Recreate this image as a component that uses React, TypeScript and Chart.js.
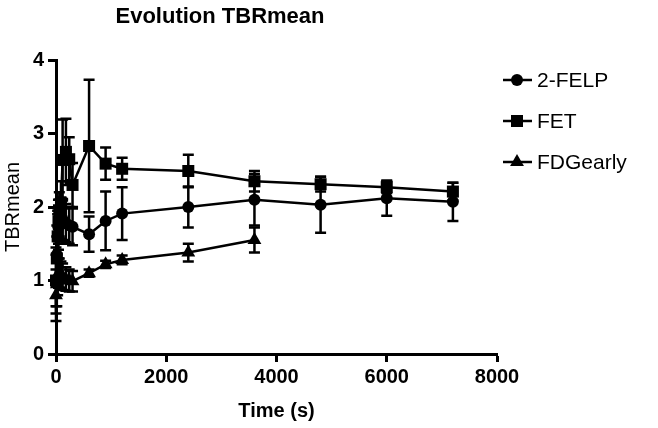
import React, { useEffect, useRef } from 'react';
import { Chart, registerables } from 'chart.js';

Chart.register(...registerables);

const TITLE = 'Evolution TBRmean';
const X_TITLE = 'Time (s)';
const Y_TITLE = 'TBRmean';
const SERIES_NAMES = ['2-FELP', 'FET', 'FDGearly'];
const SERIES_MARKERS = ['circle', 'rect', 'triangle'];

const timeFELP = [0, 15, 30, 45, 60, 90, 120, 180, 240, 300, 600, 900, 1200, 2400, 3600, 4800, 6000, 7200];
const meanFELP = [1.0, 1.35, 1.6, 1.72, 1.8, 1.85, 1.83, 1.78, 1.75, 1.73, 1.63, 1.81, 1.91, 2.0, 2.1, 2.03, 2.12, 2.07];
const sdFELP = [0.45, 0.4, 0.35, 0.3, 0.3, 0.28, 0.28, 0.26, 0.25, 0.25, 0.24, 0.4, 0.36, 0.28, 0.35, 0.38, 0.24, 0.26];

const timeFET = [0, 15, 30, 45, 60, 90, 120, 180, 240, 300, 600, 900, 1200, 2400, 3600, 4800, 6000, 7200];
const meanFET = [1.0, 1.3, 1.6, 1.8, 1.9, 2.05, 2.64, 2.75, 2.65, 2.3, 2.83, 2.59, 2.52, 2.49, 2.35, 2.31, 2.27, 2.21];
const sdFET = [0.35, 0.3, 0.3, 0.3, 0.3, 0.3, 0.55, 0.45, 0.3, 0.3, 0.9, 0.22, 0.15, 0.22, 0.14, 0.1, 0.08, 0.12];

const timeFDG = [0, 15, 30, 45, 60, 90, 120, 180, 240, 300, 600, 900, 1200, 2400, 3600];
const meanFDG = [0.8, 0.95, 1.05, 1.1, 1.1, 1.08, 1.05, 1.02, 1.0, 0.99, 1.1, 1.22, 1.28, 1.38, 1.55];
const sdFDG = [0.35, 0.3, 0.25, 0.2, 0.2, 0.18, 0.18, 0.16, 0.15, 0.14, 0.05, 0.05, 0.06, 0.12, 0.17];

const X_MIN = 0;
const X_MAX = 8000;
const X_STEP = 2000;
const Y_MIN = 0;
const Y_MAX = 4;
const Y_STEP = 1;

const FONT = 'Arial, "Liberation Sans", Helvetica, sans-serif';

function toPoints(t: number[], v: number[]) {
  return t.map((x, i) => ({ x, y: v[i] }));
}

function drawMarker(ctx: CanvasRenderingContext2D, style: string, x: number, y: number) {
  ctx.beginPath();
  if (style === 'circle') {
    ctx.arc(x, y, 6, 0, Math.PI * 2);
  } else if (style === 'rect') {
    ctx.rect(x - 6, y - 6, 12, 12);
  } else {
    const r = 8;
    for (let k = 0; k < 3; k++) {
      const a = (k * 2 * Math.PI) / 3;
      const px = x + Math.sin(a) * r;
      const py = y - Math.cos(a) * r;
      if (k === 0) ctx.moveTo(px, py);
      else ctx.lineTo(px, py);
    }
    ctx.closePath();
  }
  ctx.fill();
}

const errorBarPlugin = {
  id: 'errorBars',
  beforeDatasetsDraw(chart: any) {
    const { ctx, scales } = chart;
    const xs = scales.x;
    const ys = scales.y;
    ctx.save();
    ctx.strokeStyle = '#000';
    ctx.lineWidth = 2.5;
    chart.data.datasets.forEach((ds: any) => {
      ds.data.forEach((pt: any, j: number) => {
        const e = ds.errors[j];
        const px = xs.getPixelForValue(pt.x);
        const top = ys.getPixelForValue(pt.y + e);
        const bot = ys.getPixelForValue(pt.y - e);
        ctx.beginPath();
        ctx.moveTo(px, top);
        ctx.lineTo(px, bot);
        ctx.moveTo(px - 5.5, top);
        ctx.lineTo(px + 5.5, top);
        ctx.moveTo(px - 5.5, bot);
        ctx.lineTo(px + 5.5, bot);
        ctx.stroke();
      });
    });
    ctx.restore();
  },
};

const decorPlugin = {
  id: 'decor',
  afterDraw(chart: any) {
    const { ctx } = chart;
    ctx.save();
    ctx.fillStyle = '#000';
    ctx.font = `bold 22px ${FONT}`;
    ctx.textAlign = 'center';
    ctx.textBaseline = 'alphabetic';
    ctx.fillText(TITLE, 220, 23);

    // legend
    const rowY = [80, 121, 162];
    ctx.font = `21px ${FONT}`;
    ctx.textAlign = 'left';
    ctx.textBaseline = 'middle';
    chart.data.datasets.forEach((ds: any, i: number) => {
      const y = rowY[i];
      ctx.strokeStyle = '#000';
      ctx.lineWidth = 2.5;
      ctx.beginPath();
      ctx.moveTo(503, y);
      ctx.lineTo(532, y);
      ctx.stroke();
      drawMarker(ctx, ds.pointStyle, 517, y);
      ctx.fillText(ds.label, 537, y + 1);
    });
    ctx.restore();
  },
};

export default function App() {
  const ref = useRef<HTMLCanvasElement | null>(null);

  useEffect(() => {
    if (!ref.current) return;
    const series = [
      { t: timeFELP, v: meanFELP, e: sdFELP },
      { t: timeFET, v: meanFET, e: sdFET },
      { t: timeFDG, v: meanFDG, e: sdFDG },
    ];
    const datasets = series.map((s, i) => ({
      label: SERIES_NAMES[i],
      data: toPoints(s.t, s.v),
      errors: s.e,
      borderColor: '#000',
      backgroundColor: '#000',
      borderWidth: 2.5,
      pointStyle: SERIES_MARKERS[i],
      pointRadius: i === 0 ? 6 : i === 1 ? 8.5 : 8,
      pointBorderWidth: 0,
      pointBackgroundColor: '#000',
      tension: 0,
      clip: false as any,
    }));

    const axisCommon = {
      border: { display: true, color: '#000', width: 3 },
      grid: {
        drawOnChartArea: false,
        drawTicks: true,
        tickLength: 8,
        tickWidth: 3,
        tickColor: '#000',
      },
    };

    const chart = new Chart(ref.current, {
      type: 'line',
      data: { datasets } as any,
      options: {
        animation: false,
        responsive: false,
        devicePixelRatio: 1,
        layout: { padding: { top: 60, right: 161, bottom: 0, left: 0 } },
        plugins: {
          legend: { display: false },
          title: { display: false },
          tooltip: { enabled: false },
        },
        scales: {
          x: {
            type: 'linear',
            min: X_MIN,
            max: X_MAX,
            ...axisCommon,
            ticks: {
              stepSize: X_STEP,
              color: '#000',
              font: { family: FONT, size: 20, weight: 'bold' },
              padding: 3,
              maxRotation: 0,
              callback: (v: any) => String(v),
            },
            title: {
              display: true,
              text: X_TITLE,
              color: '#000',
              font: { family: FONT, size: 20, weight: 'bold' },
              padding: { top: 0, bottom: 5 },
            },
            afterFit: (s: any) => {
              s.height = 74;
            },
          },
          y: {
            type: 'linear',
            min: Y_MIN,
            max: Y_MAX,
            ...axisCommon,
            ticks: {
              stepSize: Y_STEP,
              color: '#000',
              font: { family: FONT, size: 20, weight: 'bold' },
              padding: 4,
              callback: (v: any) => String(v),
            },
            title: {
              display: true,
              text: Y_TITLE,
              color: '#000',
              font: { family: FONT, size: 20 },
              padding: { top: 1, bottom: 0 },
            },
            afterFit: (s: any) => {
              s.width = 56;
            },
          },
        } as any,
      },
      plugins: [errorBarPlugin, decorPlugin],
    });
    return () => chart.destroy();
  }, []);

  return (
    <div style={{ position: 'absolute', left: 0, top: 0, width: 658, height: 428, background: '#fff' }}>
      <canvas ref={ref} width={658} height={428} style={{ display: 'block' }} />
    </div>
  );
}
